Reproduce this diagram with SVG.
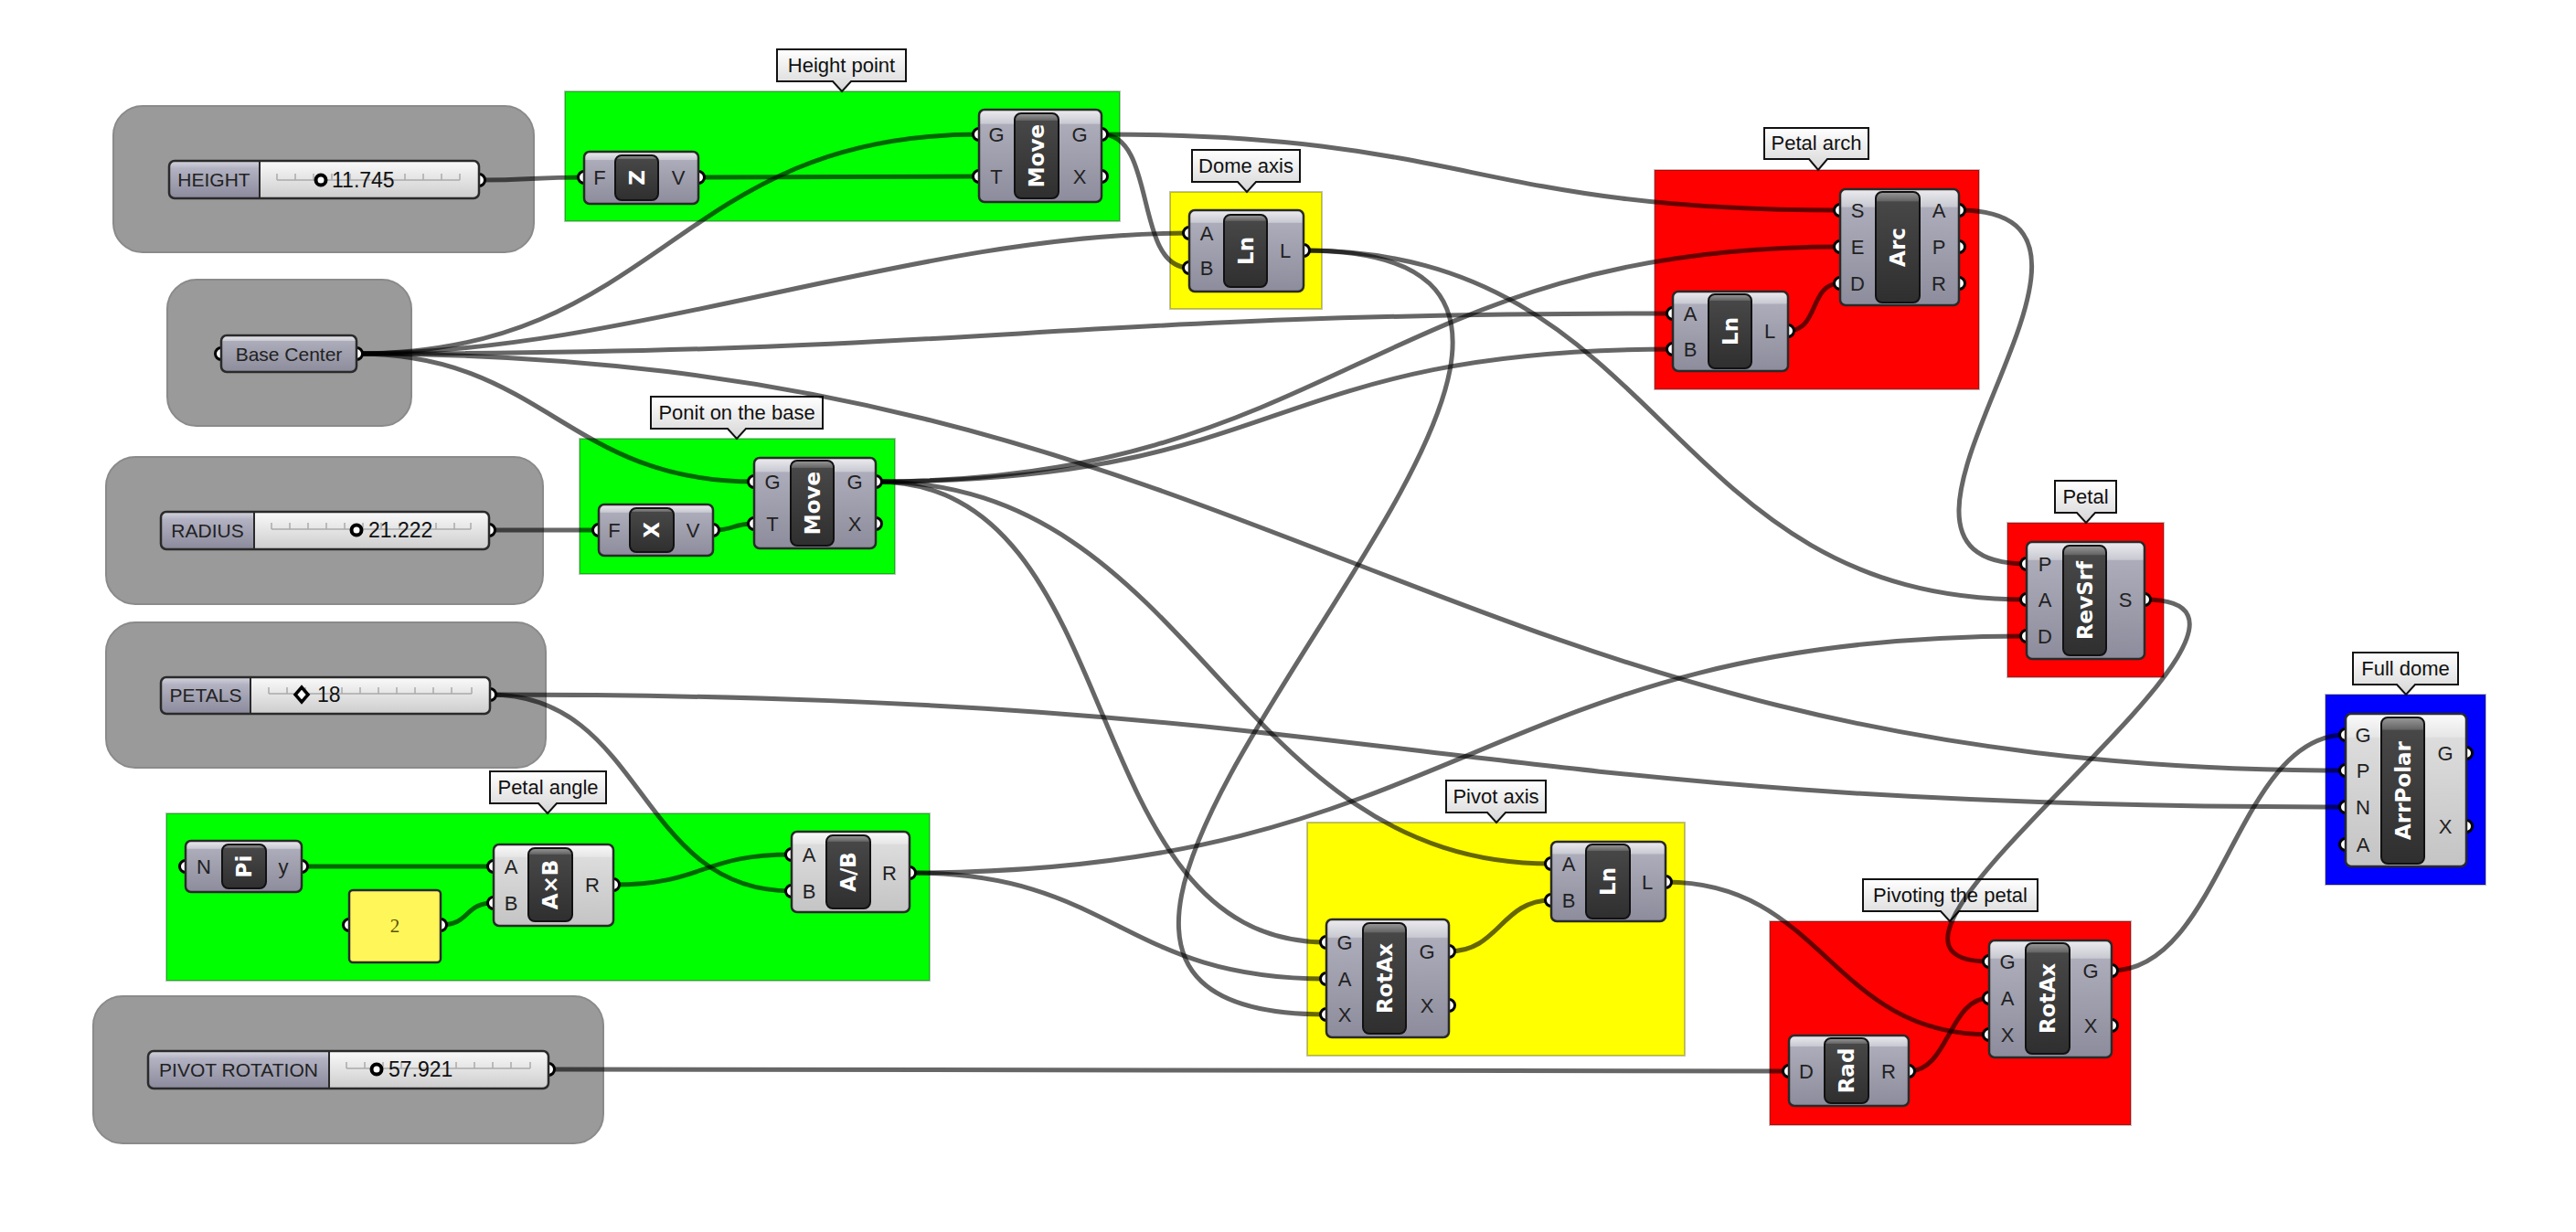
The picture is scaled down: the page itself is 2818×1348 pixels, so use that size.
<svg xmlns="http://www.w3.org/2000/svg" width="2818" height="1348" viewBox="0 0 2818 1348">
<defs>
<linearGradient id="gN" x1="0" y1="0" x2="0" y2="1"><stop offset="0" stop-color="#ececf0"/><stop offset="0.15" stop-color="#c9c9d2"/><stop offset="0.16" stop-color="#acacba"/><stop offset="1" stop-color="#8c8c9c"/></linearGradient>
<linearGradient id="gL" x1="0" y1="0" x2="0" y2="1"><stop offset="0" stop-color="#fbfbfb"/><stop offset="0.15" stop-color="#e6e6e6"/><stop offset="0.16" stop-color="#dcdcdc"/><stop offset="1" stop-color="#c4c4c4"/></linearGradient>
<linearGradient id="gI" x1="0" y1="0" x2="0" y2="1"><stop offset="0" stop-color="#9a9a9a"/><stop offset="0.08" stop-color="#666"/><stop offset="0.09" stop-color="#474747"/><stop offset="1" stop-color="#2f2f2f"/></linearGradient>
<linearGradient id="gSV" x1="0" y1="0" x2="0" y2="1"><stop offset="0" stop-color="#fafafa"/><stop offset="0.3" stop-color="#ececec"/><stop offset="1" stop-color="#cdcdcd"/></linearGradient>
<linearGradient id="gSL" x1="0" y1="0" x2="0" y2="1"><stop offset="0" stop-color="#d6d6e0"/><stop offset="0.2" stop-color="#b2b2c2"/><stop offset="1" stop-color="#8a8a9c"/></linearGradient>
<linearGradient id="gC" x1="0" y1="0" x2="0" y2="1"><stop offset="0" stop-color="#ffffff"/><stop offset="1" stop-color="#d6d6d6"/></linearGradient>
</defs>
<style>
.grp{fill:#9a9a9a;stroke:#8a8a8a;stroke-width:2}
.cg{stroke:#000;stroke-opacity:0.25;stroke-width:2}
.call{fill:url(#gC);stroke:#111;stroke-width:2}
.ct{font-family:"Liberation Sans",Arial,sans-serif;font-size:22px;fill:#111;text-anchor:middle}
.wire{fill:none;stroke:#000;stroke-opacity:0.6;stroke-width:5}
.port{fill:#fff;stroke:#000;stroke-width:3}
.body{fill:url(#gN);stroke:#2a2a2a;stroke-width:2.5}
.lbody{fill:url(#gL);stroke:#2a2a2a;stroke-width:2.5}
.icon{fill:url(#gI);stroke:#111;stroke-width:2}
.it{font-family:"DejaVu Sans",Verdana,sans-serif;font-weight:bold;font-size:23px;fill:#fff;text-anchor:middle;dominant-baseline:central}
.pl{font-family:"Liberation Sans",Arial,sans-serif;font-size:22px;fill:#222;text-anchor:middle}
.sv{fill:url(#gSV)}
.sl{fill:url(#gSL)}
.so{fill:none;stroke:#2a2a2a;stroke-width:2.5}
.tick{fill:none;stroke:#aaa;stroke-width:1.5}
.grip{fill:#fff;stroke:#000;stroke-width:4}
.st{font-family:"Liberation Sans",Arial,sans-serif;font-size:21px;fill:#222;text-anchor:middle}
.sval{font-family:"Liberation Sans",Arial,sans-serif;font-size:23px;fill:#111}
</style>

<g id="groups">
<rect class="grp" x="124" y="116" width="460" height="160" rx="32"/>
<rect class="grp" x="183" y="306" width="267" height="160" rx="32"/>
<rect class="grp" x="116" y="500" width="478" height="161" rx="32"/>
<rect class="grp" x="116" y="681" width="481" height="159" rx="32"/>
<rect class="grp" x="102" y="1090" width="558" height="161" rx="32"/>
<rect class="cg" fill="#00ff00" x="618" y="100" width="607" height="142"/>
<rect class="cg" fill="#00ff00" x="634" y="480" width="345" height="148"/>
<rect class="cg" fill="#ffff00" x="1280" y="210" width="166" height="128"/>
<rect class="cg" fill="#ff0000" x="1810" y="186" width="355" height="240"/>
<rect class="cg" fill="#ff0000" x="2196" y="572" width="171" height="169"/>
<rect class="cg" fill="#0000ff" x="2544" y="760" width="175" height="208"/>
<rect class="cg" fill="#00ff00" x="182" y="890" width="835" height="183"/>
<rect class="cg" fill="#ffff00" x="1430" y="900" width="413" height="255"/>
<rect class="cg" fill="#ff0000" x="1936" y="1008" width="395" height="223"/>
</g>

<g id="callouts">
<path class="call" d="M850,54 H991 V89 H931 L921,100 L911,89 H850 Z"/><text class="ct" x="920.5" y="79">Height point</text>
<path class="call" d="M712,434 H900 V469 H816 L806,480 L796,469 H712 Z"/><text class="ct" x="806" y="459">Ponit on the base</text>
<path class="call" d="M1304,164 H1422 V199 H1374 L1364,210 L1354,199 H1304 Z"/><text class="ct" x="1363" y="189">Dome axis</text>
<path class="call" d="M1930,140 H2044 V174 H1999 L1989,186 L1979,174 H1930 Z"/><text class="ct" x="1987" y="164">Petal arch</text>
<path class="call" d="M2248,526 H2315 V561 H2292 L2282,572 L2272,561 H2248 Z"/><text class="ct" x="2281.5" y="551">Petal</text>
<path class="call" d="M2574,714 H2689 V749 H2642 L2632,760 L2622,749 H2574 Z"/><text class="ct" x="2631.5" y="739">Full dome</text>
<path class="call" d="M536,844 H663 V879 H609 L599,890 L589,879 H536 Z"/><text class="ct" x="599.5" y="869">Petal angle</text>
<path class="call" d="M1582,854 H1691 V889 H1647 L1637,900 L1627,889 H1582 Z"/><text class="ct" x="1636.5" y="879">Pivot axis</text>
<path class="call" d="M2038,962 H2229 V997 H2143 L2133,1008 L2123,997 H2038 Z"/><text class="ct" x="2133.5" y="987">Pivoting the petal</text>
</g>

<g id="connectors">
<path class="wire" d="M524,197 C580,197 583,194 639,194"/>
<path class="wire" d="M764,194 C915,194 920,193 1071,193"/>
<path class="wire" d="M390,387 C725,387 736,147 1071,147"/>
<path class="wire" d="M390,387 C690,387 1001,255 1301,255"/>
<path class="wire" d="M390,387 C1100,387 1130,343 1830,343"/>
<path class="wire" d="M390,387 C1390,387 1566,843 2566,843"/>
<path class="wire" d="M390,387 C595,387 620,527 825,527"/>
<path class="wire" d="M1205,147 C1266,147 1240,293 1301,293"/>
<path class="wire" d="M1205,147 C1610,147 1610,230 2013,230"/>
<path class="wire" d="M1426,274 C1826,274 1817,656 2217,656"/>
<path class="wire" d="M1426,274 C1980,274 900,1110 1451,1110"/>
<path class="wire" d="M958,527 C1460,527 1510,270 2013,270"/>
<path class="wire" d="M958,527 C1410,527 1380,382 1830,382"/>
<path class="wire" d="M958,527 C1240,527 1170,1031 1451,1031"/>
<path class="wire" d="M958,527 C1310,527 1345,945 1697,945"/>
<path class="wire" d="M535,580 C595,580 595,580 655,580"/>
<path class="wire" d="M780,580 C805,580 800,573 825,573"/>
<path class="wire" d="M536,760 C706,760 696,975 866,975"/>
<path class="wire" d="M536,760 C1540,760 1566,883 2566,883"/>
<path class="wire" d="M330,948 C435,948 435,948 540,948"/>
<path class="wire" d="M482,1012 C515,1012 507,988 540,988"/>
<path class="wire" d="M671,968 C770,968 767,935 866,935"/>
<path class="wire" d="M995,955 C1600,955 1617,696 2217,696"/>
<path class="wire" d="M995,955 C1220,955 1226,1071 1451,1071"/>
<path class="wire" d="M1585,1041 C1640,1041 1642,985 1697,985"/>
<path class="wire" d="M1822,965 C1995,965 2003,1132 2176,1132"/>
<path class="wire" d="M600,1170 C1280,1170 1277,1172 1957,1172"/>
<path class="wire" d="M2088,1172 C2132,1172 2132,1092 2176,1092"/>
<path class="wire" d="M2310,1062 C2430,1062 2446,804 2566,804"/>
<path class="wire" d="M1956,362 C1990,362 1979,310 2013,310"/>
<path class="wire" d="M2143,230 C2380,230 1990,617 2217,617"/>
<path class="wire" d="M2346,656 C2566,656 1966,1052 2176,1052"/>
</g>

<g id="slider-height">
<circle class="port" cx="524" cy="197" r="6.5"/>
<rect class="sv" x="185" y="176" width="339" height="41" rx="6"/>
<path class="sl" d="M191,176 H284 V217 H191 A6,6 0 0 1 185,211 V182 A6,6 0 0 1 191,176 Z"/>
<line x1="284" y1="176" x2="284" y2="217" stroke="#2a2a2a" stroke-width="2"/>
<rect class="so" x="185" y="176" width="339" height="41" rx="6"/>
<path class="tick" d="M303,197 H503 M303,190 V197 M323,190 V197 M343,190 V197 M363,190 V197 M383,190 V197 M403,190 V197 M423,190 V197 M443,190 V197 M463,190 V197 M483,190 V197 M503,190 V197"/>
<text class="st" x="234" y="204">HEIGHT</text>
<circle class="grip" cx="351" cy="197" r="5.5"/>
<text class="sval" x="363" y="205">11.745</text>
</g>

<g id="param-base-center">
<circle class="port" cx="242" cy="387" r="6.5"/>
<circle class="port" cx="390" cy="387" r="6.5"/>
<rect class="body" x="242" y="367" width="148" height="40" rx="6"/>
<text class="st" x="316" y="395">Base Center</text>
</g>

<g id="slider-radius">
<circle class="port" cx="535" cy="580" r="6.5"/>
<rect class="sv" x="176" y="560" width="359" height="41" rx="6"/>
<path class="sl" d="M182,560 H278 V601 H182 A6,6 0 0 1 176,595 V566 A6,6 0 0 1 182,560 Z"/>
<line x1="278" y1="560" x2="278" y2="601" stroke="#2a2a2a" stroke-width="2"/>
<rect class="so" x="176" y="560" width="359" height="41" rx="6"/>
<path class="tick" d="M297,579 H515 M297,572 V579 M317,572 V579 M337,572 V579 M357,572 V579 M377,572 V579 M397,572 V579 M417,572 V579 M437,572 V579 M457,572 V579 M477,572 V579 M497,572 V579 M515,572 V579"/>
<text class="st" x="227" y="588">RADIUS</text>
<circle class="grip" cx="390" cy="580" r="5.5"/>
<text class="sval" x="403" y="588">21.222</text>
</g>

<g id="slider-petals">
<circle class="port" cx="536" cy="760" r="6.5"/>
<rect class="sv" x="176" y="741" width="360" height="40" rx="6"/>
<path class="sl" d="M182,741 H274 V781 H182 A6,6 0 0 1 176,775 V747 A6,6 0 0 1 182,741 Z"/>
<line x1="274" y1="741" x2="274" y2="781" stroke="#2a2a2a" stroke-width="2"/>
<rect class="so" x="176" y="741" width="360" height="40" rx="6"/>
<path class="tick" d="M294,759 H516 M294,752 V759 M314,752 V759 M334,752 V759 M354,752 V759 M374,752 V759 M394,752 V759 M414,752 V759 M434,752 V759 M454,752 V759 M474,752 V759 M494,752 V759 M516,752 V759"/>
<text class="st" x="225" y="768">PETALS</text>
<path d="M330,752 L337,760 L330,768 L323,760 Z" fill="#fff" stroke="#000" stroke-width="3.5"/>
<text class="sval" x="347" y="768">18</text>
</g>

<g id="slider-pivot-rotation">
<circle class="port" cx="600" cy="1170" r="6.5"/>
<rect class="sv" x="162" y="1150" width="438" height="41" rx="6"/>
<path class="sl" d="M168,1150 H360 V1191 H168 A6,6 0 0 1 162,1185 V1156 A6,6 0 0 1 168,1150 Z"/>
<line x1="360" y1="1150" x2="360" y2="1191" stroke="#2a2a2a" stroke-width="2"/>
<rect class="so" x="162" y="1150" width="438" height="41" rx="6"/>
<path class="tick" d="M379,1169 H580 M379,1162 V1169 M399,1162 V1169 M419,1162 V1169 M439,1162 V1169 M459,1162 V1169 M479,1162 V1169 M499,1162 V1169 M519,1162 V1169 M539,1162 V1169 M559,1162 V1169 M580,1162 V1169"/>
<text class="st" x="261" y="1178">PIVOT ROTATION</text>
<circle class="grip" cx="412" cy="1170" r="5.5"/>
<text class="sval" x="425" y="1178">57.921</text>
</g>

<g id="node-unit-z">
<circle class="port" cx="639" cy="194" r="6.5"/><circle class="port" cx="764" cy="194" r="6.5"/>
<rect class="body" x="639" y="166" width="125" height="57" rx="6"/>
<rect class="icon" x="673" y="170" width="47" height="49" rx="7"/>
<text class="it" transform="translate(696.5,194.5) rotate(-90)">Z</text>
<text class="pl" x="656" y="202">F</text><text class="pl" x="742" y="202">V</text>
</g>

<g id="node-move-height">
<circle class="port" cx="1071" cy="147" r="6.5"/><circle class="port" cx="1071" cy="193" r="6.5"/>
<circle class="port" cx="1205" cy="147" r="6.5"/><circle class="port" cx="1205" cy="193" r="6.5"/>
<rect class="body" x="1071" y="120" width="134" height="101" rx="6"/>
<rect class="icon" x="1110" y="124" width="48" height="93" rx="7"/>
<text class="it" transform="translate(1134,170.5) rotate(-90)">Move</text>
<text class="pl" x="1090" y="155">G</text><text class="pl" x="1090" y="201">T</text>
<text class="pl" x="1181" y="155">G</text><text class="pl" x="1181" y="201">X</text>
</g>

<g id="node-unit-x">
<circle class="port" cx="655" cy="580" r="6.5"/><circle class="port" cx="780" cy="580" r="6.5"/>
<rect class="body" x="655" y="552" width="125" height="56" rx="6"/>
<rect class="icon" x="689" y="556" width="48" height="48" rx="7"/>
<text class="it" transform="translate(713,580) rotate(-90)">X</text>
<text class="pl" x="672" y="588">F</text><text class="pl" x="758" y="588">V</text>
</g>

<g id="node-move-base">
<circle class="port" cx="825" cy="527" r="6.5"/><circle class="port" cx="825" cy="573" r="6.5"/>
<circle class="port" cx="958" cy="527" r="6.5"/><circle class="port" cx="958" cy="573" r="6.5"/>
<rect class="body" x="825" y="501" width="133" height="99" rx="6"/>
<rect class="icon" x="865" y="504" width="47" height="93" rx="7"/>
<text class="it" transform="translate(888.5,550.5) rotate(-90)">Move</text>
<text class="pl" x="845" y="535">G</text><text class="pl" x="845" y="581">T</text>
<text class="pl" x="935" y="535">G</text><text class="pl" x="935" y="581">X</text>
</g>

<g id="node-ln-dome-axis">
<circle class="port" cx="1301" cy="255" r="6.5"/><circle class="port" cx="1301" cy="293" r="6.5"/>
<circle class="port" cx="1426" cy="274" r="6.5"/>
<rect class="body" x="1301" y="230" width="125" height="89" rx="6"/>
<rect class="icon" x="1339" y="235" width="47" height="79" rx="7"/>
<text class="it" transform="translate(1362.5,274.5) rotate(-90)">Ln</text>
<text class="pl" x="1320" y="263">A</text><text class="pl" x="1320" y="301">B</text>
<text class="pl" x="1406" y="282">L</text>
</g>

<g id="node-arc">
<circle class="port" cx="2013" cy="230" r="6.5"/><circle class="port" cx="2013" cy="270" r="6.5"/><circle class="port" cx="2013" cy="310" r="6.5"/>
<circle class="port" cx="2143" cy="230" r="6.5"/><circle class="port" cx="2143" cy="270" r="6.5"/><circle class="port" cx="2143" cy="310" r="6.5"/>
<rect class="body" x="2013" y="207" width="130" height="127" rx="6"/>
<rect class="icon" x="2052" y="210" width="48" height="121" rx="7"/>
<text class="it" transform="translate(2076,270.5) rotate(-90)">Arc</text>
<text class="pl" x="2032" y="238">S</text><text class="pl" x="2032" y="278">E</text><text class="pl" x="2032" y="318">D</text>
<text class="pl" x="2121" y="238">A</text><text class="pl" x="2121" y="278">P</text><text class="pl" x="2121" y="318">R</text>
</g>

<g id="node-ln-arch">
<circle class="port" cx="1830" cy="343" r="6.5"/><circle class="port" cx="1830" cy="382" r="6.5"/>
<circle class="port" cx="1956" cy="362" r="6.5"/>
<rect class="body" x="1830" y="319" width="126" height="87" rx="6"/>
<rect class="icon" x="1869" y="322" width="47" height="81" rx="7"/>
<text class="it" transform="translate(1892.5,362.5) rotate(-90)">Ln</text>
<text class="pl" x="1849" y="351">A</text><text class="pl" x="1849" y="390">B</text>
<text class="pl" x="1936" y="370">L</text>
</g>

<g id="node-revsrf">
<circle class="port" cx="2217" cy="617" r="6.5"/><circle class="port" cx="2217" cy="656" r="6.5"/><circle class="port" cx="2217" cy="696" r="6.5"/>
<circle class="port" cx="2346" cy="656" r="6.5"/>
<rect class="body" x="2217" y="593" width="129" height="128" rx="6"/>
<rect class="icon" x="2257" y="597" width="47" height="120" rx="7"/>
<text class="it" transform="translate(2280.5,657) rotate(-90)">RevSrf</text>
<text class="pl" x="2237" y="625">P</text><text class="pl" x="2237" y="664">A</text><text class="pl" x="2237" y="704">D</text>
<text class="pl" x="2325" y="664">S</text>
</g>

<g id="node-arrpolar">
<circle class="port" cx="2566" cy="804" r="6.5"/><circle class="port" cx="2566" cy="843" r="6.5"/><circle class="port" cx="2566" cy="883" r="6.5"/><circle class="port" cx="2566" cy="924" r="6.5"/>
<circle class="port" cx="2698" cy="824" r="6.5"/><circle class="port" cx="2698" cy="904" r="6.5"/>
<rect class="lbody" x="2566" y="781" width="132" height="167" rx="6"/>
<rect class="icon" x="2605" y="785" width="47" height="160" rx="7"/>
<text class="it" transform="translate(2628.5,865) rotate(-90)">ArrPolar</text>
<text class="pl" x="2585" y="812">G</text><text class="pl" x="2585" y="851">P</text><text class="pl" x="2585" y="891">N</text><text class="pl" x="2585" y="932">A</text>
<text class="pl" x="2675" y="832">G</text><text class="pl" x="2675" y="912">X</text>
</g>

<g id="node-pi">
<circle class="port" cx="203" cy="948" r="6.5"/><circle class="port" cx="330" cy="948" r="6.5"/>
<rect class="body" x="203" y="920" width="127" height="56" rx="6"/>
<rect class="icon" x="243" y="924" width="48" height="48" rx="7"/>
<text class="it" transform="translate(267,948) rotate(-90)">Pi</text>
<text class="pl" x="223" y="956">N</text><text class="pl" x="310" y="956">y</text>
</g>

<g id="panel-2">
<circle class="port" cx="382" cy="1012" r="6.5"/><circle class="port" cx="482" cy="1012" r="6.5"/>
<rect x="382" y="974" width="100" height="79" rx="4" fill="#fff65a" stroke="#2a2a2a" stroke-width="2.5"/>
<text x="432" y="1020" font-family="Liberation Serif, serif" font-size="21" fill="#5a5200" text-anchor="middle">2</text>
</g>

<g id="node-multiply">
<circle class="port" cx="540" cy="948" r="6.5"/><circle class="port" cx="540" cy="988" r="6.5"/>
<circle class="port" cx="671" cy="968" r="6.5"/>
<rect class="lbody" x="540" y="924" width="131" height="89" rx="6"/>
<rect class="icon" x="578" y="928" width="48" height="80" rx="7"/>
<text class="it" transform="translate(602,968) rotate(-90)">A×B</text>
<text class="pl" x="559" y="956">A</text><text class="pl" x="559" y="996">B</text>
<text class="pl" x="648" y="976">R</text>
</g>

<g id="node-divide">
<circle class="port" cx="866" cy="935" r="6.5"/><circle class="port" cx="866" cy="975" r="6.5"/>
<circle class="port" cx="995" cy="955" r="6.5"/>
<rect class="lbody" x="866" y="910" width="129" height="88" rx="6"/>
<rect class="icon" x="904" y="914" width="48" height="80" rx="7"/>
<text class="it" transform="translate(928,954) rotate(-90)">A/B</text>
<text class="pl" x="885" y="943">A</text><text class="pl" x="885" y="983">B</text>
<text class="pl" x="973" y="963">R</text>
</g>

<g id="node-ln-pivot-axis">
<circle class="port" cx="1697" cy="945" r="6.5"/><circle class="port" cx="1697" cy="985" r="6.5"/>
<circle class="port" cx="1822" cy="965" r="6.5"/>
<rect class="body" x="1697" y="921" width="125" height="87" rx="6"/>
<rect class="icon" x="1735" y="924" width="48" height="81" rx="7"/>
<text class="it" transform="translate(1759,964.5) rotate(-90)">Ln</text>
<text class="pl" x="1716" y="953">A</text><text class="pl" x="1716" y="993">B</text>
<text class="pl" x="1802" y="973">L</text>
</g>

<g id="node-rotax-pivot">
<circle class="port" cx="1451" cy="1031" r="6.5"/><circle class="port" cx="1451" cy="1071" r="6.5"/><circle class="port" cx="1451" cy="1110" r="6.5"/>
<circle class="port" cx="1585" cy="1041" r="6.5"/><circle class="port" cx="1585" cy="1100" r="6.5"/>
<rect class="body" x="1451" y="1006" width="134" height="129" rx="6"/>
<rect class="icon" x="1491" y="1010" width="47" height="121" rx="7"/>
<text class="it" transform="translate(1514.5,1070.5) rotate(-90)">RotAx</text>
<text class="pl" x="1471" y="1039">G</text><text class="pl" x="1471" y="1079">A</text><text class="pl" x="1471" y="1118">X</text>
<text class="pl" x="1561" y="1049">G</text><text class="pl" x="1561" y="1108">X</text>
</g>

<g id="node-rotax-petal">
<circle class="port" cx="2176" cy="1052" r="6.5"/><circle class="port" cx="2176" cy="1092" r="6.5"/><circle class="port" cx="2176" cy="1132" r="6.5"/>
<circle class="port" cx="2310" cy="1062" r="6.5"/><circle class="port" cx="2310" cy="1122" r="6.5"/>
<rect class="body" x="2176" y="1029" width="134" height="128" rx="6"/>
<rect class="icon" x="2216" y="1032" width="48" height="121" rx="7"/>
<text class="it" transform="translate(2240,1092.5) rotate(-90)">RotAx</text>
<text class="pl" x="2196" y="1060">G</text><text class="pl" x="2196" y="1100">A</text><text class="pl" x="2196" y="1140">X</text>
<text class="pl" x="2287" y="1070">G</text><text class="pl" x="2287" y="1130">X</text>
</g>

<g id="node-rad">
<circle class="port" cx="1957" cy="1172" r="6.5"/><circle class="port" cx="2088" cy="1172" r="6.5"/>
<rect class="body" x="1957" y="1133" width="131" height="77" rx="6"/>
<rect class="icon" x="1996" y="1136" width="48" height="71" rx="7"/>
<text class="it" transform="translate(2020,1171.5) rotate(-90)">Rad</text>
<text class="pl" x="1976" y="1180">D</text><text class="pl" x="2066" y="1180">R</text>
</g>
</svg>
